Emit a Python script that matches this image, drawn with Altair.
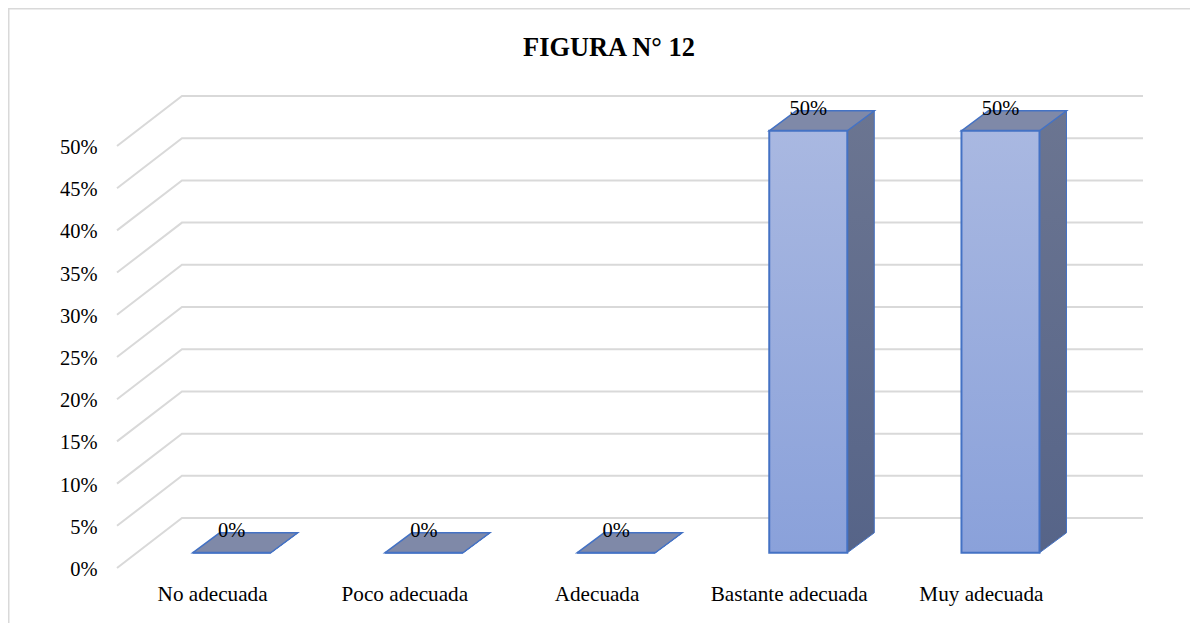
import json
import altair as alt
import pandas as pd

categories = ["No adecuada", "Poco adecuada", "Adecuada", "Bastante adecuada", "Muy adecuada"]
values = [0.0, 0.0, 0.0, 0.5, 0.5]
grid_levels = [0.0, 0.05, 0.10, 0.15, 0.20, 0.25, 0.30, 0.35, 0.40, 0.45, 0.50]
title_text = ["FIGURA N° 12"]

# oblique projection, in data units (x: categories, y: share)
FLOOR_DX, FLOOR_DY = 0.338, 0.0592
BAR_W = 0.406
BAR_DX, BAR_DY = 0.1405, 0.0237
FRONT_DX, FRONT_DY = 0.0965, 0.0180
X_MAX = len(categories) + FLOOR_DX
Y_MAX = 0.5592

W, H = 1026, 472
SERIF = "Liberation Serif"
BLUE = "#4472c4"

x_scale = alt.Scale(domain=[0, X_MAX], nice=False, zero=False)
y_scale = alt.Scale(domain=[0, Y_MAX], nice=False, zero=False)
X = alt.X("x:Q", scale=x_scale, title=None,
          axis=alt.Axis(values=[i + 0.5 for i in range(len(categories))],
                        labelExpr=f"{json.dumps(categories)}[round(datum.value - 0.5)]",
                        domain=False, ticks=False, grid=False, labelFont=SERIF, labelFontSize=21.2,
                        labelColor="#000000", labelPadding=15, labelOffset=-1, labelOverlap=False,
                        labelFlush=False, labelBound=False, labelAngle=0))
Y = alt.Y("y:Q", scale=y_scale, title=None,
          axis=alt.Axis(values=grid_levels, format=".0%", domain=False, ticks=False, grid=False,
                        labelFont=SERIF, labelFontSize=20.5, labelColor="#000000", labelPadding=20,
                        labelOffset=1.5, labelOverlap=False, labelBound=False))

grid_rows, side_rows, top_rows, front_rows, label_rows = [], [], [], [], []
for g in grid_levels:
    grid_rows += [{"g": g, "o": 0, "x": 0, "y": g},
                  {"g": g, "o": 1, "x": FLOOR_DX, "y": g + FLOOR_DY},
                  {"g": g, "o": 2, "x": X_MAX, "y": g + FLOOR_DY}]
for i, v in enumerate(values):
    x0 = i + 0.5 - BAR_W / 2 + FRONT_DX
    x1 = x0 + BAR_W
    b = FRONT_DY
    t = v + FRONT_DY
    front_rows.append({"x": x0, "x2": x1, "y": t, "y2": b})
    side_rows += [{"b": i, "x": x1, "y": t, "y2": b},
                  {"b": i, "x": x1 + BAR_DX, "y": t + BAR_DY, "y2": b + BAR_DY}]
    top_rows += [{"b": i, "x": x0, "y": t, "y2": t},
                 {"b": i, "x": x0 + BAR_DX, "y": t + BAR_DY, "y2": t},
                 {"b": i, "x": x1, "y": t + BAR_DY, "y2": t},
                 {"b": i, "x": x1 + BAR_DX, "y": t + BAR_DY, "y2": t + BAR_DY}]
    label_rows.append({"x": (x0 + x1) / 2, "y": t + BAR_DY, "label": f"{v:.0%}"})


def grad(top, bottom):
    return alt.Gradient(gradient="linear", x1=0, x2=0, y1=0, y2=1,
                        stops=[alt.GradientStop(color=top, offset=0),
                               alt.GradientStop(color=bottom, offset=1)])


frame = alt.Chart(pd.DataFrame({"k": [0]})).mark_rect(
    fill="transparent", stroke="#d9d9d9", strokeWidth=2, clip=False
).encode(x=alt.value(-108.5), x2=alt.value(1200), y=alt.value(-87.5), y2=alt.value(700))

heading = alt.Chart(pd.DataFrame({"label": title_text})).mark_text(
    font=SERIF, fontSize=26.4, fontWeight="bold", color="#000000", baseline="middle", align="center", clip=False
).encode(x=alt.value(492), y=alt.value(-48), text="label:N")

grid = alt.Chart(pd.DataFrame(grid_rows)).mark_line(color="#d9d9d9", strokeWidth=2, clip=False).encode(
    x=X, y=Y, detail="g:N", order="o:Q")

side = alt.Chart(pd.DataFrame(side_rows)).mark_area(
    fill=grad("#6b7591", "#566488"), stroke=BLUE, strokeWidth=1, clip=False
).encode(x=alt.X("x:Q", scale=x_scale), y=alt.Y("y:Q", scale=y_scale), y2="y2:Q", detail="b:N")

top = alt.Chart(pd.DataFrame(top_rows)).mark_area(
    fill="#7f89a8", stroke=BLUE, strokeWidth=1.5, clip=False
).encode(x=alt.X("x:Q", scale=x_scale), y=alt.Y("y:Q", scale=y_scale), y2="y2:Q", detail="b:N")

front = alt.Chart(pd.DataFrame(front_rows)).mark_rect(
    fill=grad("#a9b8e1", "#8aa1da"), stroke=BLUE, strokeWidth=2, clip=False
).encode(x=alt.X("x:Q", scale=x_scale), x2="x2:Q", y=alt.Y("y:Q", scale=y_scale), y2="y2:Q")

labels = alt.Chart(pd.DataFrame(label_rows)).mark_text(
    font=SERIF, fontSize=20.5, color="#000000", baseline="middle", clip=False, dy=-2
).encode(x=alt.X("x:Q", scale=x_scale), y=alt.Y("y:Q", scale=y_scale), text="label:N")

chart = alt.layer(frame, heading, grid, side, top, front, labels).properties(
    width=W, height=H,
    padding={"left": 109, "top": 88, "right": 47, "bottom": 55},
    autosize=alt.AutoSizeParams(type="none"),
).configure_view(stroke=None)

chart.save("out.html", embed_options={"renderer": "svg", "actions": False})
